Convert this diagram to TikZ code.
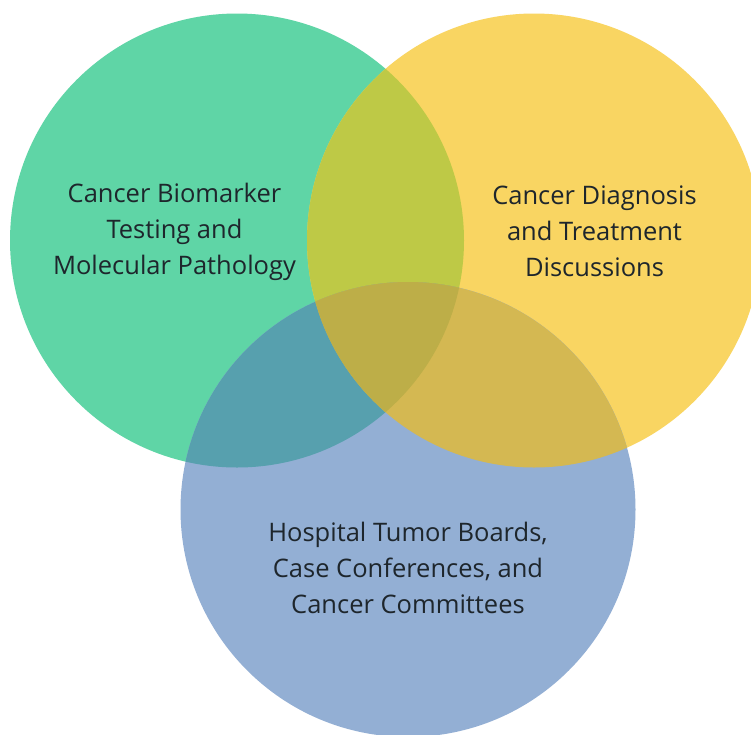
\documentclass[tikz,border=0pt]{standalone}
\usepackage{fontspec}
\setmainfont{Open Sans}
\definecolor{cgreen}{RGB}{95,213,166}
\definecolor{cyellow}{RGB}{249,213,98}
\definecolor{cblue}{RGB}{147,175,212}
\definecolor{cgy}{RGB}{190,201,70}
\definecolor{cgb}{RGB}{87,160,174}
\definecolor{cyb}{RGB}{212,184,82}
\definecolor{cgyb}{RGB}{189,174,72}
\definecolor{ctext}{RGB}{30,38,44}
\tikzset{
  lbl/.style={align=center, text=ctext, font=\fontsize{25.5}{36}\selectfont, inner sep=0pt}
}
\begin{document}
\begin{tikzpicture}[x=1pt,y=-1pt]
\useasboundingbox (0,0) rectangle (751,734);
\fill[white] (0,0) rectangle (751,734);
\def\G{(237,240.5) circle[radius=227]}
\def\Y{(534,240.5) circle[radius=227]}
\def\B{(408,509.5) circle[radius=227.5]}
\fill[cgreen] \G;
\fill[cyellow] \Y;
\fill[cblue] \B;
\begin{scope}\clip \G; \fill[cgy] \Y; \end{scope}
\begin{scope}\clip \G; \fill[cgb] \B; \end{scope}
\begin{scope}\clip \Y; \fill[cyb] \B; \end{scope}
\begin{scope}\clip \G; \clip \Y; \fill[cgyb] \B; \end{scope}
\node[lbl] (g) at (174.5,231.5) {Cancer Biomarker\\Testing and\\Molecular Pathology};
\node[lbl] (y) at (594.5,231.5) {Cancer Diagnosis\\and Treatment\\Discussions};
\node[lbl] (b) at (408,567.5) {Hospital Tumor Boards,\\Case Conferences, and\\Cancer Committees};
\end{tikzpicture}
\end{document}
